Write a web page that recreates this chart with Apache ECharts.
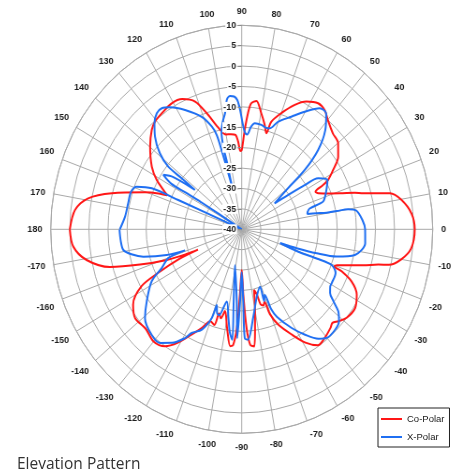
<!DOCTYPE html>
<html><head><meta charset="utf-8">
<script src="https://cdn.jsdelivr.net/npm/echarts@6/dist/echarts.min.js"></script>
<style>
html,body{margin:0;padding:0;background:#fff;}
#wrap{position:relative;width:459px;height:475px;overflow:hidden;background:#fff;}
#polar{position:absolute;left:0;top:0;width:520px;height:475px;transform:scaleX(0.9363);transform-origin:241.7px 0;}
#overlay{position:absolute;left:0;top:0;width:459px;height:475px;}
</style></head>
<body><div id="wrap"><div id="polar"></div><div id="overlay"></div></div>
<script>
// ---- data (angle in degrees, value in dB) ----
const seriesNames = ['Co-Polar', 'X-Polar'];
const radiusMin = -40, radiusMax = 10, radiusStep = 5;
const angleStep = 10;
const titleText = 'Elevation Pattern';

const coAngles = [-180,-174.5,-169.5,-165,-162,-159,-157.2,-156.5,-156,-154,-152,-147,-142,-136,-130,-125,-121,-117,-113.4,-110,-107,-106,-104,-102.3,-99,-96,-94.5,-93,-91.7,-90,-88.5,-87,-85.5,-83.5,-82,-80,-77.8,-76,-75,-73,-71.5,-70.5,-67.7,-63,-59,-55,-51,-46,-44,-41.7,-38.3,-33,-28,-24,-21.5,-20.5,-19.5,-18,-15.5,-13.6,-12.7,-10,-6,0,5,9.8,12.8,13.8,15.5,16.9,18.9,20.6,23.8,25.5,27,28.1,31.3,35.2,39.9,44.6,49.9,53.4,57.1,61.6,65.5,70,73.6,74.7,76.8,79.8,83,85.4,86.7,88.2,90,91,92.5,94,97,100,104,107.5,111.3,116,120.7,126.4,130.7,134,139.8,146.9,151.5,156,156.8,158,160.3,165.4,169.3,173.8,180];
const coValues = [5.0,4.3,1.3,-4.3,-12,-19,-24.5,-27.5,-22,-15.7,-10.3,-6.1,-4.6,-5.0,-4.1,-5.0,-7.6,-11,-13.6,-16,-15.5,-18.5,-17.5,-19.5,-15.5,-11.2,-11.6,-15.8,-24,-30,-24,-15.8,-11.6,-11.1,-15,-20,-24.8,-23.5,-21,-20.5,-21.3,-18,-14.7,-11,-7.6,-5.3,-5.6,-6.5,-7.0,-6.1,-5.0,-4.6,-5.9,-8.5,-11.9,-14.1,-13.6,-11.5,-7,-3.2,-0.5,2.4,4.6,5.3,4.6,2.4,-0.2,-3,-7,-9.1,-12.8,-15,-18.1,-18.6,-16.1,-14.4,-12,-9.1,-7.1,-6.5,-5,-3.6,-3.2,-4.4,-6.5,-9.7,-12.5,-15.6,-13.7,-11.1,-8.3,-9,-11.5,-15.8,-20.6,-20.8,-18.5,-16.8,-16.5,-16.4,-14.2,-10.5,-6.4,-4.5,-4.1,-4.7,-5.2,-6.1,-8.6,-11.9,-14.7,-18.2,-18.8,-16.5,-13.1,-4.9,0.9,3.9,5.0];

const xAngles = [-180,-175,-170.7,-168,-165.4,-162.2,-160.8,-159.9,-155.6,-151.6,-144.6,-139.3,-132.4,-127.5,-123.3,-119.1,-117.3,-113,-109.8,-109.4,-107.5,-105.8,-102.5,-99.1,-97,-95.2,-96.8,-101.3,-94.2,-92.5,-91.4,-90,-88.7,-88.3,-86.5,-81.9,-76.6,-71.2,-71.5,-69.5,-68.5,-66.8,-61.6,-57.3,-53.2,-50.1,-45.2,-41.5,-38.5,-36.3,-34,-31.3,-29.2,-23.5,-20.4,-20,-20.4,-18.5,-17.9,-16.7,-15.1,-12,-6,0,4,8.6,10,10.2,10.4,11.3,12.3,14,16,17.6,20,24.3,28.3,32,33.3,34.7,36.4,39.7,41.4,44.2,48,52.1,55.5,60.2,64.8,70.2,73.5,76,78.6,82.5,84.5,86.5,88,89.5,90.8,92.1,93.5,95.4,97,98.7,100.5,102.5,103.4,103.2,103.5,103.5,104.5,105.2,105.8,107.3,110.8,116.9,122.1,125.2,128,131.3,135,139,141.4,141.5,141.8,144.5,147,148.8,148.5,148,150,156.6,156.9,159.2,162.4,167.9,174.2,180];
const xValues = [-8.0,-8.2,-8.6,-10.5,-13.4,-19.4,-24.3,-19.6,-17,-13.2,-9.5,-6.6,-5.0,-4.9,-6.7,-9.5,-11.4,-13.3,-16.9,-20.3,-18.5,-18.1,-21.9,-18,-14.5,-12.8,-22.2,-31,-22.3,-13.3,-22.3,-29.5,-22.3,-13.3,-12.9,-18.4,-23,-25.1,-21.5,-22.8,-19,-16.7,-12.5,-9.3,-6.5,-5.3,-5.3,-6,-7.7,-10.2,-12.1,-12.9,-13,-13.2,-14.9,-18.7,-24.2,-29.4,-24.9,-19.5,-14.3,-9.7,-7.5,-7.7,-8.3,-9.6,-11.7,-14.7,-17.4,-20,-22.4,-22.2,-21.5,-17.7,-16.8,-15.6,-14.5,-16.4,-20.3,-25.3,-29.3,-24.3,-18,-12.1,-7.3,-4,-4,-6.8,-9.5,-12,-14.2,-14.3,-13.9,-13.8,-14.8,-16.7,-16.2,-14,-10.8,-8.3,-7.4,-7.2,-8,-11.2,-13,-15.5,-19.5,-23,-27,-29.5,-25,-20,-16,-13.6,-10.5,-7.2,-4.7,-3.7,-3.9,-5.4,-7.9,-11.6,-15.4,-19.9,-24.4,-18,-15.5,-18.5,-22.7,-27.5,-40,-21.9,-14.4,-10.6,-9.6,-9.6,-9.3,-8.1];

// ---- helpers ----
// angle axis runs from 90 (top) counter-clockwise to 450; values below 90 are shifted by 360
function toAxisAngle(a) { return a < 90 ? a + 360 : a; }
function buildData(angles, values) {
  return angles.map((a, i) => [values[i], toAxisAngle(a)]);
}

const RED = '#ff1616';
const BLUE = '#1f6ff2';
const GRID = '#a8a8a8';
const LABEL = '#1e1e1e';
const center = [241.7, 229.3];
const radius = 204;

const angleCommon = {
  type: 'value', min: 90, max: 450, interval: angleStep,
  startAngle: 90, clockwise: false
};

const chart = echarts.init(document.getElementById('polar'));
chart.setOption({
  animation: false,
  polar: [{ center: center, radius: radius }, { center: center, radius: radius }],
  angleAxis: [
    Object.assign({}, angleCommon, {
      polarIndex: 0,
      axisLine: { show: true, lineStyle: { color: GRID, width: 1 } },
      axisTick: { show: false },
      splitLine: { show: true, lineStyle: { color: GRID, width: 1 } },
      axisLabel: {
        show: true, margin: 9, fontSize: 9.5, fontWeight: 'bold', color: LABEL,
        fontFamily: 'Liberation Sans',
        formatter: function (v) {
          if (v >= 450) return '';
          return String(v > 180 ? v - 360 : v);
        }
      }
    }),
    Object.assign({}, angleCommon, {
      polarIndex: 1, show: false
    })
  ],
  radiusAxis: [
    {
      polarIndex: 0, type: 'value', min: radiusMin, max: radiusMax, interval: radiusStep,
      axisLine: { show: false }, axisTick: { show: false }, axisLabel: { show: false },
      splitLine: { show: true, lineStyle: { color: GRID, width: 1 } }
    },
    {
      polarIndex: 1, type: 'value', min: radiusMin, max: radiusMax, interval: radiusStep,
      z: 10,
      axisLine: { show: false },
      axisTick: { show: true, length: 4, lineStyle: { color: '#8c8c8c' } },
      splitLine: { show: false },
      axisLabel: {
        show: true, margin: 5, fontSize: 9.5, fontWeight: 'bold', color: LABEL,
        fontFamily: 'Liberation Sans', backgroundColor: '#fff', padding: [0, 1, 0, 1]
      }
    }
  ],
  series: [
    {
      name: seriesNames[0], type: 'line', coordinateSystem: 'polar', polarIndex: 0,
      data: buildData(coAngles, coValues), showSymbol: false, symbol: 'none',
      smooth: 0.3, lineStyle: { color: RED, width: 2 }, color: RED, z: 2
    },
    {
      name: seriesNames[1], type: 'line', coordinateSystem: 'polar', polarIndex: 0,
      data: buildData(xAngles, xValues), showSymbol: false, symbol: 'none',
      smooth: 0.3, lineStyle: { color: BLUE, width: 2 }, color: BLUE, z: 3
    }
  ]
});

const overlay = echarts.init(document.getElementById('overlay'));
overlay.setOption({
  animation: false,
  title: {
    text: titleText, left: 17, top: 457, padding: 0,
    textStyle: { fontFamily: 'Open Sans', fontSize: 15.5, fontWeight: 'normal', color: '#333' }
  },
  legend: {
    data: seriesNames, orient: 'vertical', left: 378, top: 408,
    icon: 'rect', itemWidth: 21, itemHeight: 2, itemGap: 8, itemTextGap: 1,
    padding: [6, 5, 5, 3], borderColor: '#222', borderWidth: 1, backgroundColor: '#fff',
    textStyle: { fontSize: 9.5, color: '#222', fontFamily: 'Liberation Sans' }
  },
  grid: { left: -20, top: -20, width: 1, height: 1 },
  xAxis: { show: false, type: 'value' },
  yAxis: { show: false, type: 'value' },
  series: [
    { name: seriesNames[0], type: 'line', data: [], color: RED },
    { name: seriesNames[1], type: 'line', data: [], color: BLUE }
  ]
});
</script>
</body></html>
